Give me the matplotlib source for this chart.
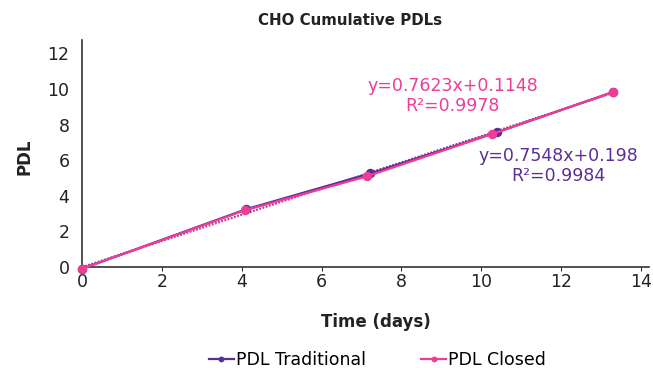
import numpy as np
import matplotlib
matplotlib.use("Agg")
import matplotlib.pyplot as plt

# data
days_trad = [0, 4.12, 7.22, 10.4, 13.3]
pdl_trad = [-0.1, 3.25, 5.25, 7.57, 9.82]
days_closed = [0, 4.08, 7.15, 10.28, 13.3]
pdl_closed = [-0.1, 3.18, 5.1, 7.47, 9.82]

eq_trad = "y=0.7548x+0.198\nR²=0.9984"
eq_closed = "y=0.7623x+0.1148\nR²=0.9978"

purple = "#5b2e96"
pink = "#ee3d96"

plt.rcParams["font.family"] = "DejaVu Sans"

fig = plt.figure(figsize=(6.53, 3.68), dpi=100)
ax = fig.add_axes([0.1256, 0.2745, 0.868, 0.617])

# trendlines (dotted)
xs = np.array([0, 13.3])
for d, p, c in [(days_trad, pdl_trad, purple), (days_closed, pdl_closed, pink)]:
    k, b = np.polyfit(d, p, 1)
    ax.plot(xs, k*xs + b, ls=(0, (1, 1)), lw=1.2, color=c)

ax.plot(days_trad, pdl_trad, color=purple, lw=1.6, marker="o", ms=5.8,
        label="PDL Traditional", clip_on=False, zorder=3)
ax.plot(days_closed, pdl_closed, color=pink, lw=1.6, marker="o", ms=5.8,
        label="PDL Closed", clip_on=False, zorder=4)

ax.text(9.28, 9.6, eq_closed, color=pink, fontsize=12.5, ha="center",
        va="center", linespacing=1.15)
ax.text(11.93, 5.65, eq_trad, color=purple, fontsize=12.5, ha="center",
        va="center", linespacing=1.15)

ax.set_xlim(0, 14.2)
ax.set_ylim(0, 12.75)
ax.set_xticks(range(0, 15, 2))
ax.set_yticks(range(0, 13, 2))
for s in ["top", "right"]:
    ax.spines[s].set_visible(False)
for s in ["left", "bottom"]:
    ax.spines[s].set_color("#333333")
    ax.spines[s].set_linewidth(1.2)
ax.tick_params(axis="x", length=3, color="#333333", labelsize=12.5,
               labelcolor="#222222", pad=1)
ax.tick_params(axis="y", length=0, labelsize=12.5, labelcolor="#222222", pad=9)

fig.text(0.536, 0.945, "CHO Cumulative PDLs", ha="center", va="center",
         fontsize=10.8, fontweight="bold", color="#222222")
fig.text(376/653, 1 - 322/368, "Time (days)", ha="center", va="center",
         fontsize=12, fontweight="bold", color="#222222")
fig.text(25/653, 1 - 157/368, "PDL", ha="center", va="center", rotation=90,
         fontsize=12, fontweight="bold", color="#222222")

fig.legend(loc="center", bbox_to_anchor=(0.578, 1 - 360/368), ncol=2,
           frameon=False, fontsize=12.5, handlelength=1.45, handletextpad=0.1,
           columnspacing=3.2, markerscale=0.55)

fig.savefig("out.png", dpi=100)
